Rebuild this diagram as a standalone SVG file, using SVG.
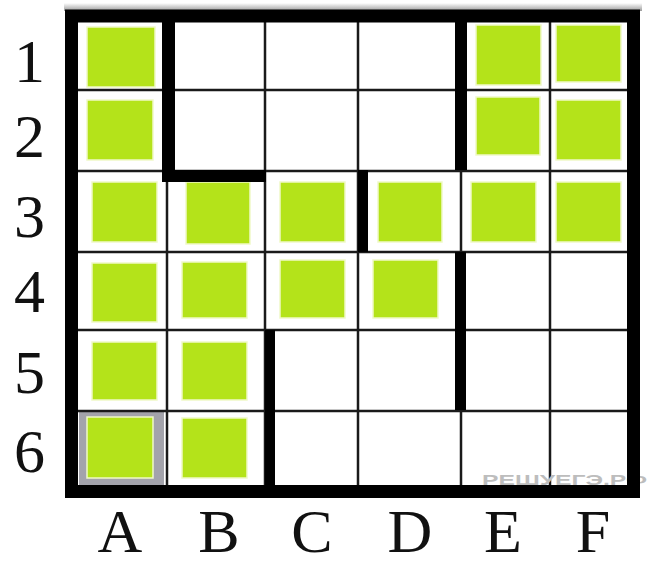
<svg xmlns="http://www.w3.org/2000/svg" width="653" height="566" viewBox="0 0 653 566">
<style>
.sq{fill:#b4e31a;stroke:#f0f9c8;stroke-width:1.5}
.thin{stroke:#1a1a1a;stroke-width:2.5;fill:none}
.wall{fill:#000}
.lbl{font-family:"Liberation Serif","Times New Roman",serif;fill:#111;text-anchor:middle}
</style>
<defs>
<linearGradient id="sh" x1="0" y1="0" x2="0" y2="1">
<stop offset="0" stop-color="#ffffff"/>
<stop offset="1" stop-color="#9a9a9a"/>
</linearGradient>
</defs>
<rect width="653" height="566" fill="#fff"/>
<rect x="64" y="3" width="578" height="8" fill="url(#sh)"/>
<g id="cells">
<rect x="79" y="412" width="85" height="73" fill="#a3a3ab"/>
<rect class="sq" x="87" y="27" width="68" height="60"/>
<rect class="sq" x="87" y="100" width="66" height="60"/>
<rect class="sq" x="92" y="182" width="65" height="60"/>
<rect class="sq" x="92" y="263" width="65" height="59"/>
<rect class="sq" x="92" y="342" width="65" height="58"/>
<rect class="sq" x="87" y="417" width="66" height="61"/>
<rect class="sq" x="186" y="182" width="64" height="62"/>
<rect class="sq" x="182" y="262" width="65" height="56"/>
<rect class="sq" x="182" y="342" width="65" height="58"/>
<rect class="sq" x="182" y="418" width="65" height="60"/>
<rect class="sq" x="280" y="182" width="65" height="60"/>
<rect class="sq" x="280" y="260" width="65" height="58"/>
<rect class="sq" x="378" y="182" width="64" height="60"/>
<rect class="sq" x="373" y="260" width="65" height="58"/>
<rect class="sq" x="476" y="25" width="65" height="60"/>
<rect class="sq" x="556" y="25" width="65" height="57"/>
<rect class="sq" x="476" y="97" width="64" height="58"/>
<rect class="sq" x="556" y="100" width="65" height="60"/>
<rect class="sq" x="471" y="182" width="65" height="60"/>
<rect class="sq" x="556" y="182" width="65" height="60"/>
</g>
<g id="grid">
<path class="thin" d="M167 170V485M265 22V485M358 22V485M461 22V485M550 22V485"/>
<path class="thin" d="M78 90H627M78 171H627M78 252H627M78 330H627M78 411H627"/>
</g>
<text x="482" y="485" font-family="Liberation Sans, Arial, sans-serif" font-size="15" font-weight="bold" fill="#bdbdbd" textLength="165" lengthAdjust="spacingAndGlyphs">РЕШУЕГЭ.РФ</text>
<g id="walls">
<rect class="wall" x="162" y="22" width="13" height="160"/>
<rect class="wall" x="162" y="170" width="104" height="12"/>
<rect class="wall" x="455" y="22" width="12" height="148"/>
<rect class="wall" x="358" y="170" width="10" height="82"/>
<rect class="wall" x="455" y="252" width="11" height="158"/>
<rect class="wall" x="265" y="330" width="10" height="155"/>
<rect x="71.5" y="16" width="562" height="475.5" fill="none" stroke="#000" stroke-width="13"/>
</g>
<g id="rows" class="lbl" font-size="62">
<text x="29.5" y="82">1</text>
<text x="29.5" y="157">2</text>
<text x="29.5" y="237">3</text>
<text x="29.5" y="312">4</text>
<text x="29.5" y="393">5</text>
<text x="29.5" y="472">6</text>
</g>
<g id="cols" class="lbl" font-size="62">
<text x="120" y="552">A</text>
<text x="219" y="552">B</text>
<text x="312" y="552">C</text>
<text x="410" y="552">D</text>
<text x="503" y="552">E</text>
<text x="593" y="552">F</text>
</g>
</svg>
